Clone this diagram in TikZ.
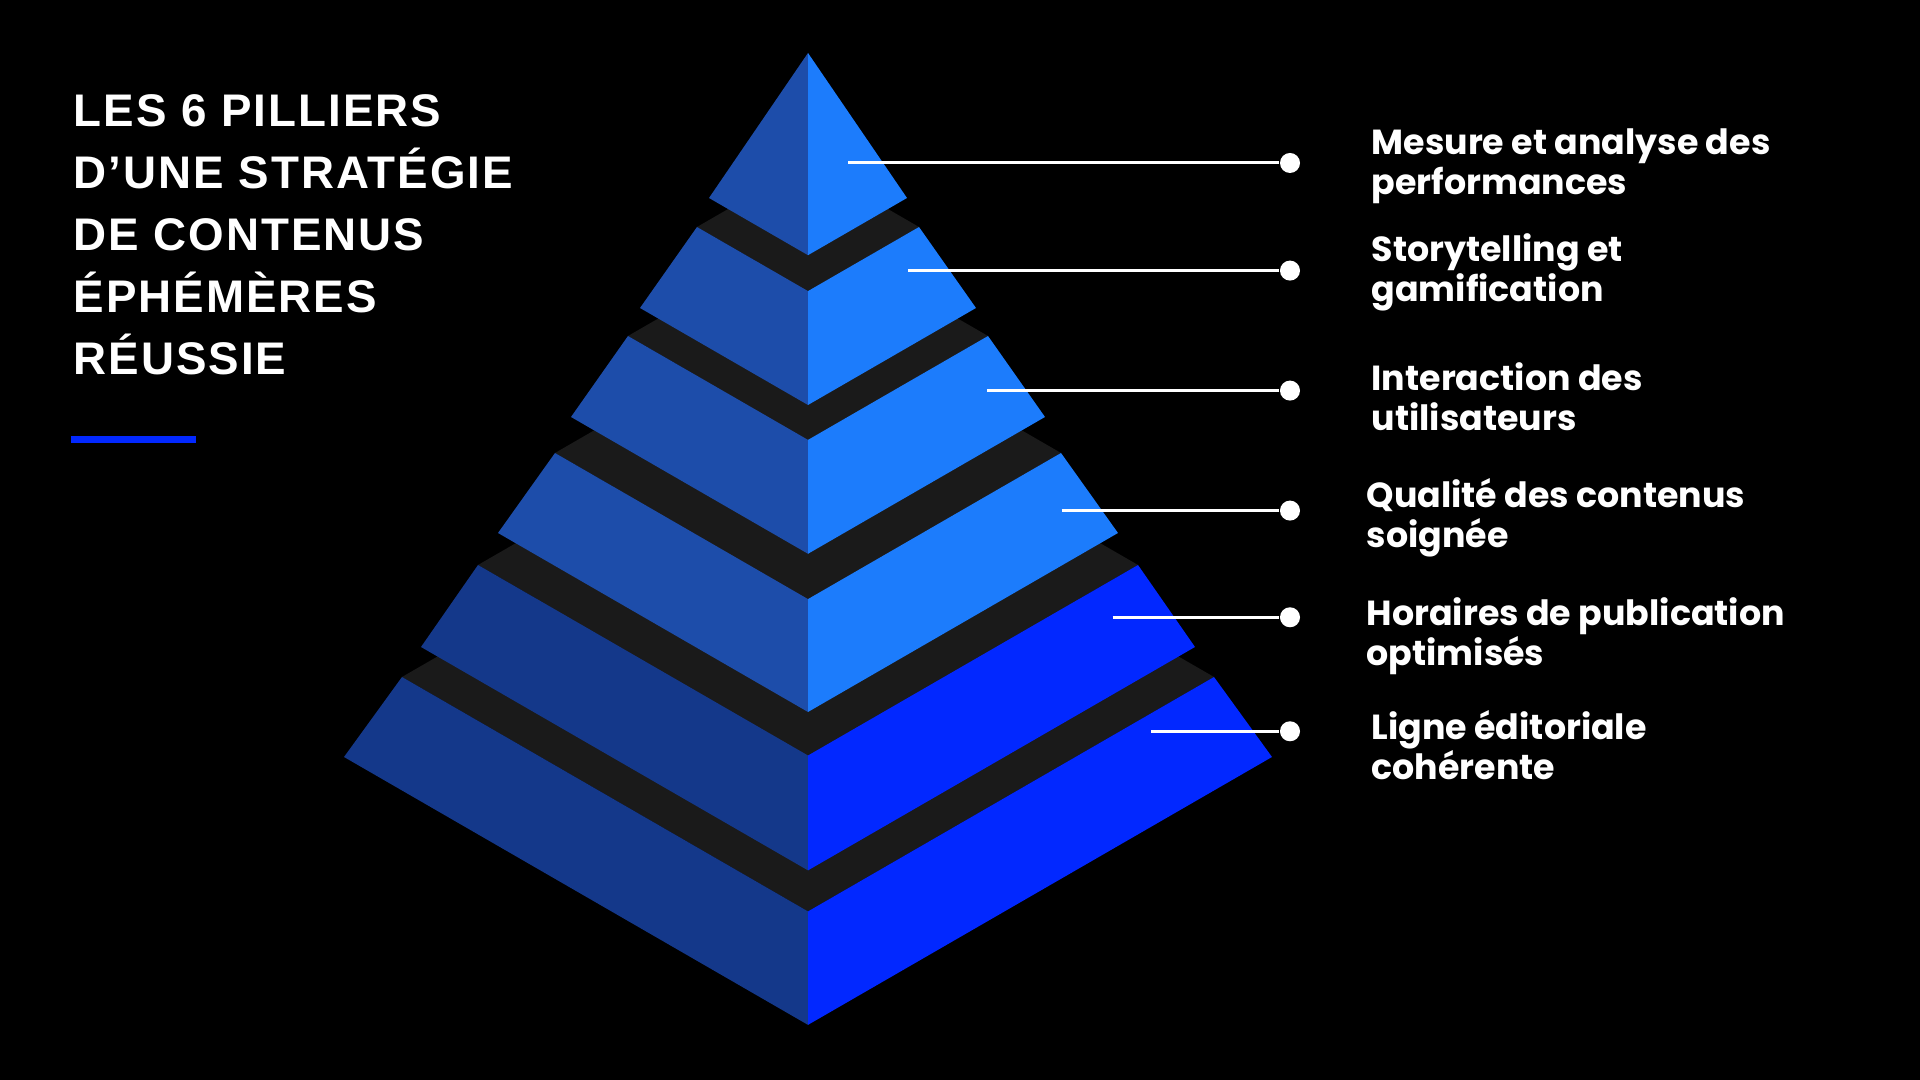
\documentclass[tikz,border=0pt]{standalone}
\usepackage{fontspec}
\setmainfont{Liberation Sans}
\newfontfamily\poppins{Poppins}
\newfontfamily\headfont{Liberation Sans}[LetterSpace=4.4]
\usepackage{tikz}

\definecolor{bandgrey}{RGB}{26,26,26}
\definecolor{faceleft}{RGB}{29,77,170}
\definecolor{faceright}{RGB}{28,124,252}
\definecolor{deepleft}{RGB}{20,56,138}
\definecolor{deepright}{RGB}{2,40,255}

\lineskiplimit=-20pt

\tikzstyle{band} = [fill=bandgrey]
\tikzstyle{bullet} = [circle, fill=white, inner sep=0pt, minimum size=0.2cm]
\tikzstyle{leader} = [draw=white, line width=0.85pt]
\tikzstyle{pillar} = [anchor=north west, inner sep=0pt, align=left, text=white,
    font=\poppins\bfseries\fontsize{9.9}{11.4}\selectfont]
\tikzstyle{headline} = [anchor=north west, inner sep=0pt, align=left, text=white,
    font=\headfont\bfseries\fontsize{13}{17.6}\selectfont]

\begin{document}
\begin{tikzpicture}[x=0.01cm, y=-0.01cm]

    \fill[black] (0,0) rectangle (1920,1080);
    \useasboundingbox (0,0) rectangle (1920,1080);

    % layer 6 (bottom)
    \fill[band] (402,677) -- (808,442.6) -- (1214,677) -- (808,911.4) -- cycle;
    \fill[deepleft] (402,677) -- (808,911.4) -- (808,1024.9) -- (344,757) -- cycle;
    \fill[deepright] (808,911.4) -- (1214,677) -- (1272,757) -- (808,1024.9) -- cycle;

    % layer 5
    \fill[band] (478,565) -- (808,374.5) -- (1138,565) -- (808,755.5) -- cycle;
    \fill[deepleft] (478,565) -- (808,755.5) -- (808,870.4) -- (421,647) -- cycle;
    \fill[deepright] (808,755.5) -- (1138,565) -- (1195,647) -- (808,870.4) -- cycle;

    % layer 4
    \fill[band] (555,453) -- (808,306.9) -- (1061,453) -- (808,599.1) -- cycle;
    \fill[faceleft] (555,453) -- (808,599.1) -- (808,712) -- (498,533) -- cycle;
    \fill[faceright] (808,599.1) -- (1061,453) -- (1118,533) -- (808,712) -- cycle;

    % layer 3
    \fill[band] (628,336) -- (808,232.1) -- (988,336) -- (808,439.9) -- cycle;
    \fill[faceleft] (628,336) -- (808,439.9) -- (808,553.8) -- (571,417) -- cycle;
    \fill[faceright] (808,439.9) -- (988,336) -- (1045,417) -- (808,553.8) -- cycle;

    % layer 2
    \fill[band] (697,227) -- (808,162.9) -- (919,227) -- (808,291.1) -- cycle;
    \fill[faceleft] (697,227) -- (808,291.1) -- (808,405) -- (640,308) -- cycle;
    \fill[faceright] (808,291.1) -- (919,227) -- (976,308) -- (808,405) -- cycle;

    % layer 1 (top)
    \fill[faceleft] (808,53) -- (808,255.2) -- (709,198) -- cycle;
    \fill[faceright] (808,53) -- (907,198) -- (808,255.2) -- cycle;

    % title
    \node[headline] (head) at (73,94) {LES 6 PILLIERS\\D’UNE STRATÉGIE\\DE CONTENUS\\ÉPHÉMÈRES\\RÉUSSIE};
    \fill[deepright] (71,436) rectangle (196,443);

    % leaders
    \coordinate (s1) at (848,163);
    \coordinate (s2) at (908,270.6);
    \coordinate (s3) at (987,390.6);
    \coordinate (s4) at (1061.7,510.6);
    \coordinate (s5) at (1112.5,617.3);
    \coordinate (s6) at (1151,731.3);

    \node[bullet] (d1) at (1290,163) {};
    \node[bullet] (d2) at (1290,270.6) {};
    \node[bullet] (d3) at (1290,390.6) {};
    \node[bullet] (d4) at (1290,510.6) {};
    \node[bullet] (d5) at (1290,617.3) {};
    \node[bullet] (d6) at (1290,731.3) {};

    \draw[leader] (s1) -- (d1);
    \draw[leader] (s2) -- (d2);
    \draw[leader] (s3) -- (d3);
    \draw[leader] (s4) -- (d4);
    \draw[leader] (s5) -- (d5);
    \draw[leader] (s6) -- (d6);

    % pillars
    \node[pillar] (t1) at (1371,128) {Mesure et analyse des\\performances};
    \node[pillar] (t2) at (1371,233) {Storytelling et\\gamification};
    \node[pillar] (t3) at (1371,362) {Interaction des\\utilisateurs};
    \node[pillar] (t4) at (1366,478) {Qualité des contenus\\soignée};
    \node[pillar] (t5) at (1366,597) {Horaires de publication\\optimisés};
    \node[pillar] (t6) at (1371,710) {Ligne éditoriale\\cohérente};

\end{tikzpicture}
\end{document}
